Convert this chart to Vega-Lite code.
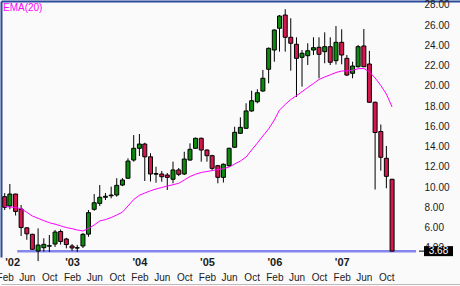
{
  "$schema": "https://vega.github.io/schema/vega-lite/v6.json",
  "width": 459,
  "height": 256,
  "autosize": {"type": "none"},
  "padding": {"left": 1, "top": 1, "right": 0, "bottom": 29},
  "background": "#fafafa",
  "title": {"text": "EMA(20)", "anchor": "start", "frame": "group", "orient": "top", "offset": -21, "baseline": "alphabetic", "color": "#ff00ff", "font": "Liberation Sans", "fontSize": 10, "fontWeight": "normal", "dx": 2},
  "config": {
    "view": {"stroke": null},
    "axis": {"grid": false, "labelFont": "Liberation Sans", "labelColor": "#1a1a1a", "tickSize": 0, "ticks": false, "domain": false, "labelOverlap": false, "labelFlush": false}
  },
  "datasets": {
    "last": [{"price": 3.68, "from": "2002-04-10", "to": "2008-03-10"}],
    "candles": [
      {"d": "2002-02-01", "o": 9.06, "h": 9.42, "l": 7.74, "c": 8.01, "ema": 8.09},
      {"d": "2002-03-01", "o": 8.14, "h": 10.31, "l": 7.81, "c": 9.32, "ema": 8.04},
      {"d": "2002-04-01", "o": 9.32, "h": 9.35, "l": 7.2, "c": 7.6, "ema": 7.99},
      {"d": "2002-05-01", "o": 7.84, "h": 8.24, "l": 5.17, "c": 6.01, "ema": 7.86},
      {"d": "2002-06-01", "o": 5.98, "h": 6.04, "l": 4.8, "c": 5.39, "ema": 7.52},
      {"d": "2002-07-01", "o": 5.34, "h": 5.4, "l": 3.8, "c": 3.86, "ema": 7.15},
      {"d": "2002-08-01", "o": 3.69, "h": 5.93, "l": 2.7, "c": 4.28, "ema": 6.92},
      {"d": "2002-09-01", "o": 4.02, "h": 4.95, "l": 3.62, "c": 4.35, "ema": 6.69},
      {"d": "2002-10-01", "o": 4.17, "h": 5.27, "l": 3.59, "c": 4.22, "ema": 6.49},
      {"d": "2002-11-01", "o": 4.38, "h": 5.77, "l": 4.09, "c": 5.57, "ema": 6.34},
      {"d": "2002-12-01", "o": 5.62, "h": 5.82, "l": 4.33, "c": 4.63, "ema": 6.18},
      {"d": "2003-01-01", "o": 4.88, "h": 4.99, "l": 3.96, "c": 4.33, "ema": 6.01},
      {"d": "2003-02-01", "o": 4.19, "h": 4.38, "l": 3.69, "c": 3.99, "ema": 5.9},
      {"d": "2003-03-01", "o": 3.98, "h": 4.3, "l": 3.6, "c": 4.02, "ema": 5.77},
      {"d": "2003-04-01", "o": 4.19, "h": 5.47, "l": 3.99, "c": 5.34, "ema": 5.67},
      {"d": "2003-05-01", "o": 5.36, "h": 7.74, "l": 5.1, "c": 7.48, "ema": 5.93},
      {"d": "2003-06-01", "o": 7.81, "h": 9.32, "l": 7.67, "c": 8.46, "ema": 6.26},
      {"d": "2003-07-01", "o": 8.4, "h": 10.21, "l": 8.14, "c": 9.0, "ema": 6.66},
      {"d": "2003-08-01", "o": 9.0, "h": 9.42, "l": 8.73, "c": 9.1, "ema": 6.8},
      {"d": "2003-09-01", "o": 9.15, "h": 10.05, "l": 8.9, "c": 9.22, "ema": 7.0},
      {"d": "2003-10-01", "o": 9.23, "h": 10.88, "l": 9.06, "c": 10.18, "ema": 7.25},
      {"d": "2003-11-01", "o": 10.21, "h": 10.9, "l": 10.11, "c": 10.71, "ema": 7.53},
      {"d": "2003-12-01", "o": 10.88, "h": 12.85, "l": 10.86, "c": 12.58, "ema": 8.14},
      {"d": "2004-01-01", "o": 12.68, "h": 15.15, "l": 12.52, "c": 13.84, "ema": 8.78},
      {"d": "2004-02-01", "o": 13.84, "h": 15.25, "l": 13.08, "c": 14.26, "ema": 9.2},
      {"d": "2004-03-01", "o": 14.26, "h": 14.39, "l": 10.61, "c": 13.0, "ema": 9.42},
      {"d": "2004-04-01", "o": 13.0, "h": 13.35, "l": 10.56, "c": 11.3, "ema": 9.64},
      {"d": "2004-05-01", "o": 11.35, "h": 12.02, "l": 10.44, "c": 11.28, "ema": 9.82},
      {"d": "2004-06-01", "o": 11.3, "h": 11.6, "l": 10.54, "c": 11.03, "ema": 9.97},
      {"d": "2004-07-01", "o": 11.2, "h": 11.4, "l": 9.72, "c": 10.97, "ema": 10.11},
      {"d": "2004-08-01", "o": 10.78, "h": 12.52, "l": 10.38, "c": 11.7, "ema": 10.24},
      {"d": "2004-09-01", "o": 11.7, "h": 11.9, "l": 11.1, "c": 11.27, "ema": 10.38},
      {"d": "2004-10-01", "o": 11.3, "h": 13.5, "l": 11.2, "c": 12.78, "ema": 10.71},
      {"d": "2004-11-01", "o": 12.68, "h": 14.33, "l": 12.61, "c": 13.74, "ema": 11.05},
      {"d": "2004-12-01", "o": 13.84, "h": 14.9, "l": 13.8, "c": 14.83, "ema": 11.28},
      {"d": "2005-01-01", "o": 14.83, "h": 14.9, "l": 12.52, "c": 13.67, "ema": 11.45},
      {"d": "2005-02-01", "o": 13.67, "h": 13.74, "l": 12.52, "c": 13.11, "ema": 11.55},
      {"d": "2005-03-01", "o": 13.11, "h": 13.2, "l": 11.7, "c": 11.86, "ema": 11.64},
      {"d": "2005-04-01", "o": 12.12, "h": 12.2, "l": 10.38, "c": 10.97, "ema": 11.72},
      {"d": "2005-05-01", "o": 10.97, "h": 12.35, "l": 10.46, "c": 12.26, "ema": 11.83},
      {"d": "2005-06-01", "o": 12.12, "h": 13.9, "l": 12.0, "c": 13.84, "ema": 11.99},
      {"d": "2005-07-01", "o": 13.94, "h": 15.97, "l": 13.9, "c": 15.42, "ema": 12.29},
      {"d": "2005-08-01", "o": 15.32, "h": 16.9, "l": 15.25, "c": 15.91, "ema": 12.58},
      {"d": "2005-09-01", "o": 15.82, "h": 18.29, "l": 15.75, "c": 17.53, "ema": 12.98},
      {"d": "2005-10-01", "o": 17.53, "h": 19.53, "l": 17.45, "c": 18.54, "ema": 13.67},
      {"d": "2005-11-01", "o": 18.44, "h": 19.67, "l": 18.29, "c": 19.33, "ema": 14.36},
      {"d": "2005-12-01", "o": 19.5, "h": 21.58, "l": 19.43, "c": 20.76, "ema": 15.06},
      {"d": "2006-01-01", "o": 21.65, "h": 23.8, "l": 20.26, "c": 23.72, "ema": 15.75},
      {"d": "2006-02-01", "o": 23.55, "h": 25.6, "l": 22.4, "c": 25.53, "ema": 16.64},
      {"d": "2006-03-01", "o": 25.7, "h": 27.01, "l": 23.39, "c": 26.91, "ema": 17.62},
      {"d": "2006-04-01", "o": 27.01, "h": 27.58, "l": 23.39, "c": 24.81, "ema": 18.17},
      {"d": "2006-05-01", "o": 24.81, "h": 26.69, "l": 21.51, "c": 24.22, "ema": 18.66},
      {"d": "2006-06-01", "o": 24.12, "h": 24.81, "l": 18.91, "c": 22.73, "ema": 19.04},
      {"d": "2006-07-01", "o": 22.83, "h": 23.55, "l": 19.93, "c": 23.23, "ema": 19.43},
      {"d": "2006-08-01", "o": 22.99, "h": 24.22, "l": 22.07, "c": 23.48, "ema": 19.85},
      {"d": "2006-09-01", "o": 23.55, "h": 24.81, "l": 23.06, "c": 23.78, "ema": 20.24},
      {"d": "2006-10-01", "o": 23.82, "h": 24.81, "l": 20.76, "c": 23.13, "ema": 20.64},
      {"d": "2006-11-01", "o": 23.39, "h": 25.3, "l": 22.24, "c": 23.88, "ema": 20.89},
      {"d": "2006-12-01", "o": 23.88, "h": 24.81, "l": 22.07, "c": 22.34, "ema": 21.1},
      {"d": "2007-01-01", "o": 22.5, "h": 25.92, "l": 22.12, "c": 24.31, "ema": 21.33},
      {"d": "2007-02-01", "o": 24.31, "h": 25.6, "l": 22.14, "c": 23.06, "ema": 21.48},
      {"d": "2007-03-01", "o": 22.73, "h": 23.06, "l": 20.98, "c": 21.08, "ema": 21.48},
      {"d": "2007-04-01", "o": 21.25, "h": 22.4, "l": 20.76, "c": 21.97, "ema": 21.55},
      {"d": "2007-05-01", "o": 21.9, "h": 24.05, "l": 21.82, "c": 23.88, "ema": 21.7},
      {"d": "2007-06-01", "o": 23.95, "h": 25.63, "l": 21.87, "c": 21.9, "ema": 21.73},
      {"d": "2007-07-01", "o": 22.17, "h": 23.47, "l": 18.32, "c": 18.39, "ema": 21.38},
      {"d": "2007-08-01", "o": 18.39, "h": 18.45, "l": 9.77, "c": 15.4, "ema": 20.79},
      {"d": "2007-09-01", "o": 15.5, "h": 16.19, "l": 11.63, "c": 12.95, "ema": 20.05},
      {"d": "2007-10-01", "o": 12.85, "h": 14.07, "l": 9.89, "c": 11.07, "ema": 19.21},
      {"d": "2007-11-01", "o": 10.78, "h": 10.82, "l": 3.68, "c": 3.68, "ema": 17.92}
    ]
  },
  "resolve": {"axis": {"x": "independent", "y": "independent"}},
  "layer": [
    {
      "data": {"name": "last"},
      "mark": {"type": "rule", "color": "#8585ee", "strokeWidth": 2.5},
      "encoding": {
        "x": {"field": "from", "type": "temporal",
          "scale": {"type": "utc", "padding": 0, "domain": [{"year": 2002, "month": 1, "date": 12, "utc": true}, {"year": 2008, "month": 11, "date": 3, "utc": true}]},
          "axis": {"orient": "bottom", "offset": 27, "labels": false, "domain": true, "domainColor": "#bbbbbb", "domainWidth": 1, "title": null}},
        "x2": {"field": "to"},
        "y": {"field": "price", "type": "quantitative", "scale": {"domain": [3.1, 28.395], "nice": false, "zero": false, "padding": 0}, "axis": null}
      }
    },
    {
      "data": {"name": "candles"},
      "mark": {"type": "rule", "color": "#000000", "strokeWidth": 1},
      "encoding": {
        "x": {"field": "d", "type": "temporal",
          "scale": {"type": "utc", "padding": 0, "domain": [{"year": 2002, "month": 1, "date": 12, "utc": true}, {"year": 2008, "month": 11, "date": 3, "utc": true}]},
          "axis": {"orient": "bottom", "title": null, "labelFontSize": 10, "labelBaseline": "alphabetic", "labelPadding": 23, "labelExpr": "utcFormat(datum.value, '%b')",
            "values": [
              {"year": 2002, "month": 2, "date": 1, "utc": true}, {"year": 2002, "month": 6, "date": 1, "utc": true}, {"year": 2002, "month": 10, "date": 1, "utc": true},
              {"year": 2003, "month": 2, "date": 1, "utc": true}, {"year": 2003, "month": 6, "date": 1, "utc": true}, {"year": 2003, "month": 10, "date": 1, "utc": true},
              {"year": 2004, "month": 2, "date": 1, "utc": true}, {"year": 2004, "month": 6, "date": 1, "utc": true}, {"year": 2004, "month": 10, "date": 1, "utc": true},
              {"year": 2005, "month": 2, "date": 1, "utc": true}, {"year": 2005, "month": 6, "date": 1, "utc": true}, {"year": 2005, "month": 10, "date": 1, "utc": true},
              {"year": 2006, "month": 2, "date": 1, "utc": true}, {"year": 2006, "month": 6, "date": 1, "utc": true}, {"year": 2006, "month": 10, "date": 1, "utc": true},
              {"year": 2007, "month": 2, "date": 1, "utc": true}, {"year": 2007, "month": 6, "date": 1, "utc": true}, {"year": 2007, "month": 10, "date": 1, "utc": true}
            ]}},
        "y": {"field": "l", "type": "quantitative", "scale": {"domain": [3.1, 28.395], "nice": false, "zero": false, "padding": 0},
          "axis": {"orient": "right", "offset": -36, "title": null, "labelAlign": "left", "labelPadding": 0, "labelFontSize": 10, "format": ".2f",
            "values": [4, 6, 8, 10, 12, 14, 16, 18, 20, 22, 24, 26, 28]}},
        "y2": {"field": "h"}
      }
    },
    {
      "data": {"name": "candles"},
      "mark": {"type": "bar", "width": 4, "stroke": "#000000", "strokeWidth": 1},
      "encoding": {
        "x": {"field": "d", "type": "temporal",
          "scale": {"type": "utc", "padding": 0, "domain": [{"year": 2002, "month": 1, "date": 12, "utc": true}, {"year": 2008, "month": 11, "date": 3, "utc": true}]},
          "axis": {"orient": "bottom", "title": null, "labelFontSize": 11, "labelFontWeight": "bold", "labelBaseline": "alphabetic", "labelPadding": 8,
            "labelExpr": "\"'\" + utcFormat(datum.value, '%y')",
            "labelAlign": {"condition": {"test": "utcyear(datum.value) == 2002", "value": "left"}, "value": "center"},
            "values": [
              {"year": 2002, "month": 2, "date": 1, "utc": true}, {"year": 2003, "month": 2, "date": 1, "utc": true},
              {"year": 2004, "month": 2, "date": 1, "utc": true}, {"year": 2005, "month": 2, "date": 1, "utc": true},
              {"year": 2006, "month": 2, "date": 1, "utc": true}, {"year": 2007, "month": 2, "date": 1, "utc": true}
            ]}},
        "y": {"field": "o", "type": "quantitative", "scale": {"domain": [3.1, 28.395], "nice": false, "zero": false, "padding": 0},
          "axis": {"orient": "left", "title": null, "labels": false, "domain": true, "domainColor": "#2a4b9b", "domainWidth": 2}},
        "y2": {"field": "c"},
        "fill": {"condition": {"test": "datum.c >= datum.o", "value": "#0b8a0b"}, "value": "#d4174d"}
      }
    },
    {
      "data": {"name": "candles"},
      "mark": {"type": "line", "color": "#ff00ff", "strokeWidth": 1},
      "encoding": {
        "x": {"field": "d", "type": "temporal",
          "scale": {"type": "utc", "padding": 0, "domain": [{"year": 2002, "month": 1, "date": 12, "utc": true}, {"year": 2008, "month": 11, "date": 3, "utc": true}]},
          "axis": {"orient": "top", "title": null, "labels": false, "domain": true, "domainColor": "#2a4b9b", "domainWidth": 2}},
        "y": {"field": "ema", "type": "quantitative", "scale": {"domain": [3.1, 28.395], "nice": false, "zero": false, "padding": 0}, "axis": null}
      }
    },
    {
      "data": {"name": "last"},
      "mark": {"type": "rect", "x": {"expr": "width - 36"}, "x2": {"expr": "width - 7"}, "height": 10, "color": "#000000"},
      "encoding": {
        "y": {"field": "price", "type": "quantitative", "scale": {"domain": [3.1, 28.395], "nice": false, "zero": false, "padding": 0}, "axis": null}
      }
    },
    {
      "data": {"name": "last"},
      "mark": {"type": "rule", "x": {"expr": "width - 41"}, "x2": {"expr": "width - 36"}, "color": "#000000", "strokeWidth": 1},
      "encoding": {
        "y": {"field": "price", "type": "quantitative", "scale": {"domain": [3.1, 28.395], "nice": false, "zero": false, "padding": 0}, "axis": null}
      }
    },
    {
      "data": {"name": "last"},
      "mark": {"type": "text", "x": {"expr": "width - 21.5"}, "color": "#ffffff", "font": "Liberation Sans", "fontSize": 10, "align": "center", "baseline": "middle"},
      "encoding": {
        "y": {"field": "price", "type": "quantitative", "scale": {"domain": [3.1, 28.395], "nice": false, "zero": false, "padding": 0}, "axis": null},
        "text": {"field": "price", "type": "quantitative", "format": ".2f"}
      }
    }
  ]
}
